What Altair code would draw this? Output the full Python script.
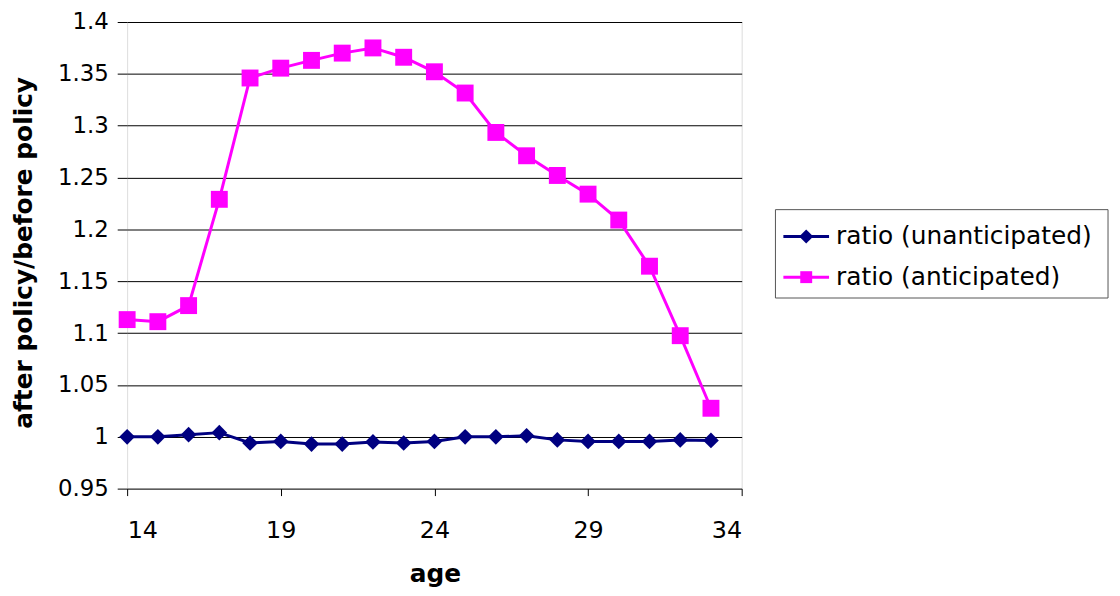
import altair as alt
import pandas as pd

ages = list(range(14, 34))
unanticipated = [1.000, 1.000, 1.002, 1.004, 0.994, 0.9955, 0.993, 0.993, 0.995, 0.994,
                 0.9955, 1.000, 1.000, 1.001, 0.997, 0.9955, 0.9955, 0.9955, 0.997, 0.9965]
anticipated = [1.113, 1.111, 1.1265, 1.229, 1.346, 1.3555, 1.363, 1.370, 1.375, 1.366,
               1.352, 1.3315, 1.2935, 1.271, 1.252, 1.234, 1.209, 1.1645, 1.0975, 1.0275]
series_names = ["ratio (unanticipated)", "ratio (anticipated)"]
series_colors = ["#000080", "#FF00FF"]
series_shapes = ["diamond", "square"]
y_ticks = [0.95, 1.0, 1.05, 1.1, 1.15, 1.2, 1.25, 1.3, 1.35, 1.4]
x_ticks = [14, 19, 24, 29, 34]

rows = []
for name, vals in zip(series_names, [unanticipated, anticipated]):
    for a, v in zip(ages, vals):
        rows.append({"age": a, "ratio": v, "series": name})
df = pd.DataFrame(rows)
legend_df = pd.DataFrame({"series": series_names})

FONT = "DejaVu Sans"

x_enc = alt.X(
    "age:Q",
    scale=alt.Scale(domain=[14, 34], nice=False, zero=False),
    axis=alt.Axis(
        values=x_ticks, title="age", grid=False, domain=False,
        tickSize=7, tickColor="black", tickWidth=1,
        labelFont=FONT, labelFontSize=24, labelColor="black",
        labelBaseline="alphabetic", labelPadding=42,
        titleFont=FONT, titleFontSize=25, titleFontWeight="bold", titleColor="black",
        titleX=310, titleY=94, titleBaseline="alphabetic", titleAlign="center",
    ),
)
y_enc = alt.Y(
    "ratio:Q",
    scale=alt.Scale(domain=[0.95, 1.4], nice=False, zero=False),
    axis=alt.Axis(
        values=y_ticks, format=".2~f", title="after policy/before policy",
        grid=True, gridColor="black", gridWidth=1, gridOpacity=1, domain=False,
        tickSize=10, tickColor="black", tickWidth=1,
        labelFont=FONT, labelFontSize=23, labelColor="black", labelPadding=9,
        titleFont=FONT, titleFontSize=25, titleFontWeight="bold", titleColor="black",
        titleAngle=270, titleX=-96, titleY=232, titleAlign="center",
        titleBaseline="alphabetic",
    ),
)

color_scale = alt.Scale(domain=series_names, range=series_colors)
shape_scale = alt.Scale(domain=series_names, range=series_shapes)

lines = alt.Chart(df).mark_line(strokeWidth=3).encode(
    x=x_enc, y=y_enc,
    color=alt.Color("series:N", scale=color_scale, legend=None),
    detail="series:N",
)
points = alt.Chart(df).mark_point(filled=True, opacity=1).encode(
    x=x_enc, y=y_enc,
    color=alt.Color("series:N", scale=color_scale, legend=None),
    shape=alt.Shape("series:N", scale=shape_scale, legend=None),
    size=alt.condition(alt.datum.series == series_names[0], alt.value(250), alt.value(290)),
)

# Legend (drawn as a boxed key to the right of the plot, positions in pixels)
LEG_LEFT, LEG_RIGHT, LEG_TOP, LEG_BOTTOM = 653, 988, 189, 278
LEG_ROW_Y = [216, 257]
LEG_LINE_X0, LEG_LINE_X1, LEG_SYM_X, LEG_TEXT_X = 661, 707, 684, 714
legend_sizes = [200, 144]

legend_layers = [
    alt.Chart(legend_df.head(1)).mark_rect(
        fill="white", stroke="#555555", strokeWidth=1
    ).encode(
        x=alt.value(LEG_LEFT), x2=alt.value(LEG_RIGHT),
        y=alt.value(LEG_TOP), y2=alt.value(LEG_BOTTOM),
    )
]
for i, name in enumerate(series_names):
    row = legend_df[legend_df["series"] == name]
    yy = alt.value(LEG_ROW_Y[i])
    legend_layers.append(
        alt.Chart(row).mark_rule(strokeWidth=3, color=series_colors[i]).encode(
            x=alt.value(LEG_LINE_X0), x2=alt.value(LEG_LINE_X1), y=yy
        )
    )
    legend_layers.append(
        alt.Chart(row).mark_point(
            filled=True, opacity=1, shape=series_shapes[i],
            size=legend_sizes[i], color=series_colors[i]
        ).encode(x=alt.value(LEG_SYM_X), y=yy)
    )
    legend_layers.append(
        alt.Chart(row).mark_text(
            align="left", baseline="middle", font=FONT, fontSize=25, color="black"
        ).encode(x=alt.value(LEG_TEXT_X), y=yy, text=alt.Text("series:N"))
    )

chart = alt.layer(lines, points, *legend_layers).properties(
    width=619, height=470,
    autosize=alt.AutoSizeParams(type="none"),
    padding={"left": 120, "top": 12, "right": 373, "bottom": 100},
).configure_view(
    stroke="black", strokeWidth=2.5,
).configure(background="white")

chart.save("out.html", embed_options={"renderer": "svg", "actions": False})
